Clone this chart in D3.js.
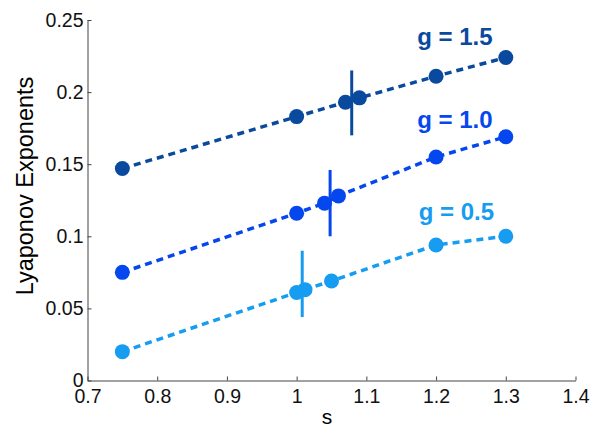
<!DOCTYPE html>
<html>
<head>
<meta charset="utf-8">
<script src="https://cdn.jsdelivr.net/npm/d3@7"></script>
<style>
  body { margin: 0; background: #fff; }
  svg text { font-family: "Liberation Sans", Helvetica, Arial, sans-serif; }
</style>
</head>
<body>
<div id="chart"></div>
<script>
// values
var groups = ["g = 1.5", "g = 1.0", "g = 0.5"];
var colors = ["#0a4a9e", "#0547ee", "#169cf0"];
var s15 = [0.75, 1.0, 1.07, 1.09, 1.2, 1.3];
var lyap15 = [0.147, 0.183, 0.193, 0.196, 0.211, 0.224];
var s10 = [0.75, 1.0, 1.04, 1.06, 1.2, 1.3];
var lyap10 = [0.075, 0.116, 0.123, 0.128, 0.155, 0.169];
var s05 = [0.75, 1.0, 1.012, 1.05, 1.2, 1.3];
var lyap05 = [0.020, 0.061, 0.063, 0.069, 0.094, 0.100];
// vertical markers
var markS = [1.079, 1.048, 1.008];
var markLo = [0.170, 0.100, 0.044];
var markHi = [0.215, 0.146, 0.090];
// label anchor (data coords)
var labelS = [1.173, 1.173, 1.175];
var labelY = [0.2327, 0.1751, 0.1113];
var xTicks = [0.7, 0.8, 0.9, 1.0, 1.1, 1.2, 1.3, 1.4];
var yTicks = [0, 0.05, 0.1, 0.15, 0.2, 0.25];

var sData = [s15, s10, s05];
var yData = [lyap15, lyap10, lyap05];

var svg = d3.select("#chart").append("svg")
    .attr("width", 601)
    .attr("height", 440);

var x = d3.scaleLinear().domain([0.7, 1.4]).range([87.5, 575.5]);
var y = d3.scaleLinear().domain([0, 0.25]).range([380.5, 20]);

var xAxis = svg.append("g")
    .attr("transform", "translate(0," + y(0) + ")")
    .call(d3.axisBottom(x).tickValues(xTicks).tickFormat(d3.format("~g"))
        .tickSizeInner(-4).tickSizeOuter(0).tickPadding(9));
var yAxis = svg.append("g")
    .attr("transform", "translate(" + x(0.7) + ",0)")
    .call(d3.axisLeft(y).tickValues(yTicks).tickFormat(d3.format("~g"))
        .tickSizeInner(-4).tickSizeOuter(0).tickPadding(4));

[xAxis, yAxis].forEach(function (a) {
    a.selectAll("path, line").attr("stroke", "#444");
    a.selectAll("text").style("font-size", "19.5px").attr("fill", "#111");
});

svg.append("text")
    .attr("x", 327)
    .attr("y", 424)
    .attr("text-anchor", "middle")
    .style("font-size", "21px")
    .text("s");

svg.append("text")
    .attr("transform", "translate(33,186) rotate(-90)")
    .attr("text-anchor", "middle")
    .style("font-size", "23.5px")
    .text("Lyaponov Exponents");

var line = d3.line()
    .x(function (d) { return x(d[0]); })
    .y(function (d) { return y(d[1]); });

for (var i = 0; i < groups.length; i++) {
    var pts = d3.zip(sData[i], yData[i]);
    svg.append("path")
        .datum(pts)
        .attr("d", line)
        .attr("fill", "none")
        .attr("stroke", colors[i])
        .attr("stroke-width", 3.5)
        .attr("stroke-dasharray", "7,5");
    svg.append("g").selectAll("circle")
        .data(pts)
        .enter().append("circle")
        .attr("cx", function (d) { return x(d[0]); })
        .attr("cy", function (d) { return y(d[1]); })
        .attr("r", 7.5)
        .attr("fill", colors[i]);
    svg.append("line")
        .attr("x1", x(markS[i]))
        .attr("x2", x(markS[i]))
        .attr("y1", y(markLo[i]))
        .attr("y2", y(markHi[i]))
        .attr("stroke", colors[i])
        .attr("stroke-width", 3);
    svg.append("text")
        .attr("x", x(labelS[i]))
        .attr("y", y(labelY[i]))
        .attr("fill", colors[i])
        .style("font-size", "24px")
        .style("font-weight", "bold")
        .text(groups[i]);
}
</script>
</body>
</html>
